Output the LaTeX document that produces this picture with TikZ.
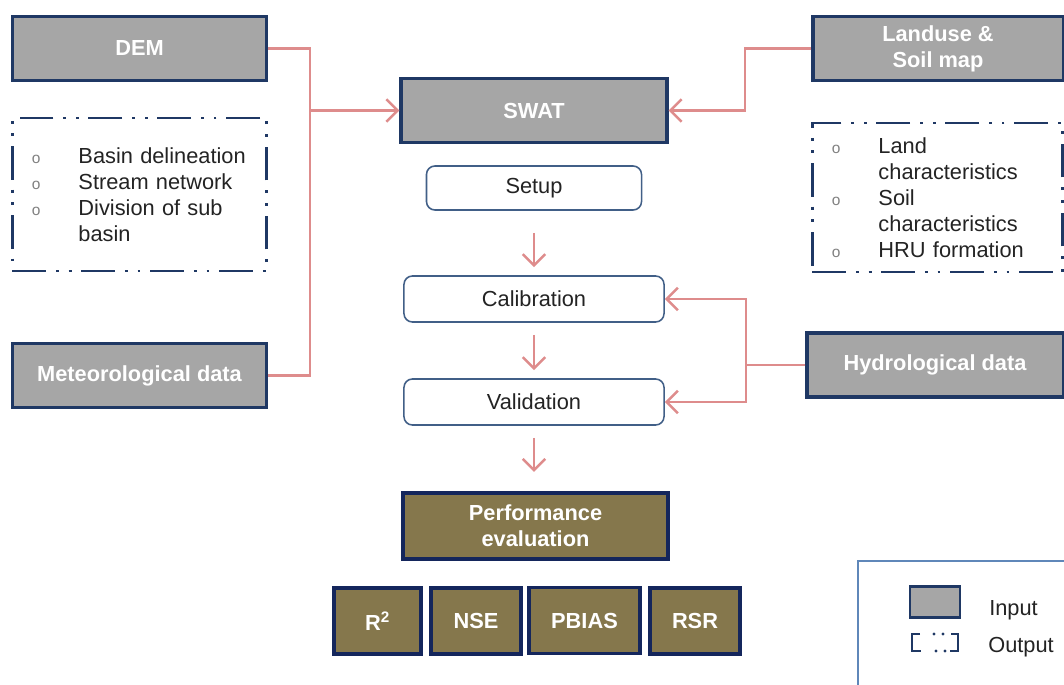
\documentclass[tikz,border=0pt]{standalone}
\usepackage{fontspec}
\setmainfont{Liberation Sans}
\usetikzlibrary{arrows.meta}

\definecolor{navy}{RGB}{31,56,100}
\definecolor{boxgrey}{RGB}{166,166,166}
\definecolor{evalolive}{RGB}{133,119,76}
\definecolor{evalnavy}{RGB}{20,38,92}
\definecolor{linkpink}{RGB}{222,140,140}
\definecolor{stepblue}{RGB}{65,95,135}
\definecolor{legendblue}{RGB}{95,135,185}
\definecolor{listgrey}{RGB}{35,35,35}

\newcommand{\diagfont}{\fontsize{15.5}{18.5}\selectfont}
\newcommand{\listmark}{\makebox[1.2cm][l]{\hspace{1pt}{\fontsize{11}{11}\selectfont\color{gray}o}}}
\newcommand{\listgap}{\hspace*{1.2cm}}

\tikzset{
	inbox/.style={draw=navy, line width=2.2pt, fill=boxgrey, text=white, font=\diagfont\bfseries, align=center, minimum height=1.6cm},
	outbox/.style={draw=navy, line width=1.8pt, dash pattern=on 24pt off 7pt on 2pt off 7pt on 2pt off 7pt, text=listgrey, font=\diagfont, text width=5.45cm, inner xsep=0.45cm, align=left},
	stepbox/.style={draw=stepblue, line width=1.1pt, rounded corners=6pt, fill=white, text=listgrey, font=\diagfont, minimum height=1.15cm},
	evalbox/.style={draw=evalnavy, line width=2.6pt, fill=evalolive, text=white, font=\diagfont\bfseries, align=center, minimum height=1.65cm},
	link/.style={draw=linkpink, line width=1.8pt},
	tolink/.style={link, -{Straight Barb[length=8pt,width=16pt]}},
}

\begin{document}
\begin{tikzpicture}[x=0.025cm, y=-0.025cm]
	\useasboundingbox (0,0) rectangle (1064,684);

	% inputs
	\node[inbox, minimum width=6.35cm] (dem) at (139.5,48.5) {DEM};
	\node[inbox, minimum width=6.35cm] (meteo) at (139.5,375.5) {Meteorological data};
	\node[inbox, minimum width=6.25cm] (land) at (938,48.5) {Landuse \&\\Soil map};
	\node[inbox, minimum width=6.4cm] (hydro) at (935,365) {Hydrological data};

	% outputs
	\node[outbox, minimum height=3.82cm] (demout) at (139.5,194.5) {\listmark Basin delineation\\
		\listmark Stream network\\
		\listmark Division of sub\\
		\listgap basin};
	\node[outbox, minimum height=3.72cm, text width=5.35cm] (landout) at (937.5,197.5) {\listmark Land\\
		\listgap characteristics\\
		\listmark Soil\\
		\listgap characteristics\\
		\listmark HRU formation};

	% model steps
	\node[inbox, minimum width=6.65cm, minimum height=1.6cm] (swat) at (534,110.5) {SWAT};
	\node[stepbox, minimum width=5.375cm, minimum height=1.1cm] (setup) at (534,188) {Setup};
	\node[stepbox, minimum width=6.5cm] (calib) at (534,299) {Calibration};
	\node[stepbox, minimum width=6.5cm] (valid) at (534,402) {Validation};

	% evaluation
	\node[evalbox, minimum width=6.63cm] (perf) at (535.5,526) {Performance\\evaluation};
	\node[evalbox, minimum width=2.17cm] (rsq) at (377.5,621) {R\textsuperscript{2}};
	\node[evalbox, minimum width=2.25cm] (nse) at (476,621) {NSE};
	\node[evalbox, minimum width=2.77cm] (pbias) at (584.5,620.5) {PBIAS};
	\node[evalbox, minimum width=2.25cm] (rsr) at (695,621) {RSR};

	% connectors
	\coordinate (trunkL) at (310,110.5);
	\coordinate (trunkR) at (745,110.5);
	\coordinate (trunkH) at (746,365);
	\draw[link] (dem.east) -| (trunkL) |- (meteo.east);
	\draw[tolink] (trunkL) -- (swat.west);
	\draw[tolink] (land.west) -| (trunkR) -- (swat.east);
	\draw[link] (hydro.west) -- (trunkH);
	\draw[tolink] (trunkH) |- (calib.east);
	\draw[tolink] (trunkH) |- (valid.east);
	\draw[tolink, shorten <=0.55cm, shorten >=0.2cm] (setup.south) -- (calib.north);
	\draw[tolink, shorten <=0.3cm, shorten >=0.2cm] (calib.south) -- (valid.north);
	\draw[tolink, shorten <=0.3cm, shorten >=0.48cm] (valid.south) -- (valid.south |- perf.north);

	% legend
	\draw[legendblue, line width=2pt] (858,561) rectangle (1090,710);
	\node[inbox, minimum width=1.25cm, minimum height=0.78cm, line width=2pt] (keyin) at (935,602) {};
	\draw[navy, line width=1.6pt] (920,634) -- (912,634) -- (912,651) -- (921,651) (951,634) -- (958,634) -- (958,651) -- (950,651);
	\fill[navy] (934,634) circle (1.2pt) (943,634) circle (1.2pt) (936,651) circle (1.2pt) (945,651) circle (1.2pt);
	\node[anchor=base west, font=\diagfont, text=listgrey, inner sep=0pt] (keyintext) at (989,615) {Input};
	\node[anchor=base west, font=\diagfont, text=listgrey, inner sep=0pt] (keyouttext) at (988,652) {Output};
\end{tikzpicture}
\end{document}
